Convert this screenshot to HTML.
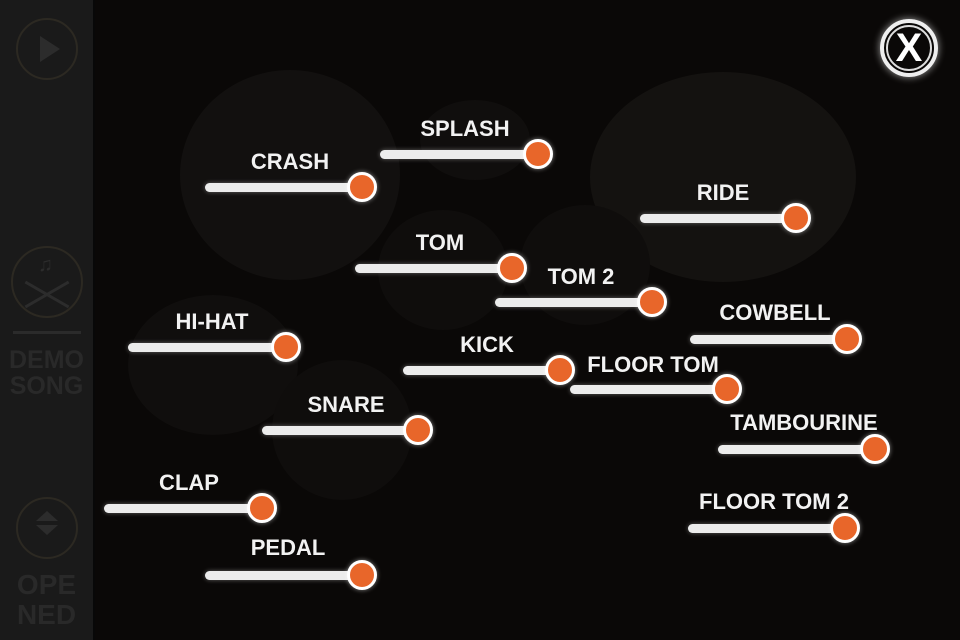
<!DOCTYPE html>
<html><head><style>
body{margin:0;width:960px;height:640px;overflow:hidden;background:#0a0807;font-family:"Liberation Sans",sans-serif;position:relative}
.bg{position:absolute;border-radius:50%;background:#141210}
.side{position:absolute;left:0;top:0;width:93px;height:640px;background:#1a1a1a;border-right:2px solid #080808}
.st{position:absolute;color:#292929;font-weight:bold;font-size:25px;text-align:center;width:93px;left:0;line-height:26px}
.ring{position:absolute;border-radius:50%;border:2px solid #2c2922;box-sizing:border-box}
.tr{position:absolute;height:9px;border-radius:5px;background:#ececec;box-shadow:0 0 5px rgba(255,255,255,.35)}
.kn{position:absolute;width:30px;height:30px;border-radius:50%;background:#e8662a;border:3px solid #fff;box-sizing:border-box;box-shadow:0 0 5px rgba(255,255,255,.5)}
.lb{position:absolute;color:#f2f2f2;font-weight:bold;font-size:22px;transform:translate(-50%,-50%);white-space:nowrap}
</style></head><body>
<div class="bg" style="left:590px;top:72px;width:266px;height:210px"></div>
<div class="bg" style="left:180px;top:70px;width:220px;height:210px;background:#12100f"></div>
<div class="bg" style="left:420px;top:100px;width:110px;height:80px;background:#100e0d"></div>
<div class="bg" style="left:128px;top:295px;width:170px;height:140px;background:#100e0d"></div>
<div class="bg" style="left:272px;top:360px;width:140px;height:140px;background:#0f0d0c"></div>
<div class="bg" style="left:378px;top:210px;width:130px;height:120px;background:#0f0d0c"></div>
<div class="bg" style="left:520px;top:205px;width:130px;height:120px;background:#0f0d0c"></div>
<div class="side"></div>
<div class="ring" style="left:16px;top:18px;width:62px;height:62px"></div>
<div style="position:absolute;left:40px;top:36px;border-left:20px solid #2c2c2c;border-top:13px solid transparent;border-bottom:13px solid transparent"></div>
<div class="ring" style="left:11px;top:246px;width:72px;height:72px"></div>
<div style="position:absolute;left:22px;top:293px;width:50px;height:3px;background:#2c2c2c;transform:rotate(30deg)"></div>
<div style="position:absolute;left:22px;top:293px;width:50px;height:3px;background:#2c2c2c;transform:rotate(-30deg)"></div>
<div style="position:absolute;left:38px;top:254px;color:#2c2c2c;font-size:20px">♫</div>
<div style="position:absolute;left:13px;top:331px;width:68px;height:3px;background:#2b2b2b"></div>
<div class="st" style="top:347px">DEMO<br>SONG</div>
<div class="ring" style="left:16px;top:497px;width:62px;height:62px"></div>
<div style="position:absolute;left:36px;top:511px;border-bottom:10px solid #2c2c2c;border-left:11px solid transparent;border-right:11px solid transparent"></div>
<div style="position:absolute;left:36px;top:525px;border-top:10px solid #2c2c2c;border-left:11px solid transparent;border-right:11px solid transparent"></div>
<div class="st" style="top:570px;font-size:28px;line-height:30px">OPE<br>NED</div>
<div style="position:absolute;left:880px;top:19px;width:58px;height:58px;border-radius:50%;border:4px solid #eee;box-sizing:border-box;box-shadow:0 0 8px rgba(255,255,255,.6)"></div>
<div style="position:absolute;left:886px;top:25px;width:46px;height:46px;border-radius:50%;border:2px solid #ddd;box-sizing:border-box"></div>
<div style="position:absolute;left:880px;top:19px;width:58px;height:58px;line-height:58px;text-align:center;color:#fff;font-weight:bold;font-size:40px">X</div>

<div class="tr" style="left:205px;top:183px;width:160px"></div><div class="kn" style="left:347px;top:172px"></div><div class="lb" style="left:290px;top:162px">CRASH</div>
<div class="tr" style="left:380px;top:150px;width:160px"></div><div class="kn" style="left:523px;top:139px"></div><div class="lb" style="left:465px;top:129px">SPLASH</div>
<div class="tr" style="left:640px;top:214px;width:160px"></div><div class="kn" style="left:781px;top:203px"></div><div class="lb" style="left:723px;top:193px">RIDE</div>
<div class="tr" style="left:355px;top:264px;width:160px"></div><div class="kn" style="left:497px;top:253px"></div><div class="lb" style="left:440px;top:243px">TOM</div>
<div class="tr" style="left:495px;top:298px;width:160px"></div><div class="kn" style="left:637px;top:287px"></div><div class="lb" style="left:581px;top:277px">TOM 2</div>
<div class="tr" style="left:128px;top:343px;width:160px"></div><div class="kn" style="left:271px;top:332px"></div><div class="lb" style="left:212px;top:322px">HI-HAT</div>
<div class="tr" style="left:690px;top:335px;width:160px"></div><div class="kn" style="left:832px;top:324px"></div><div class="lb" style="left:775px;top:313px">COWBELL</div>
<div class="tr" style="left:403px;top:366px;width:160px"></div><div class="kn" style="left:545px;top:355px"></div><div class="lb" style="left:487px;top:345px">KICK</div>
<div class="tr" style="left:570px;top:385px;width:160px"></div><div class="kn" style="left:712px;top:374px"></div><div class="lb" style="left:653px;top:365px">FLOOR TOM</div>
<div class="tr" style="left:262px;top:426px;width:160px"></div><div class="kn" style="left:403px;top:415px"></div><div class="lb" style="left:346px;top:405px">SNARE</div>
<div class="tr" style="left:718px;top:445px;width:160px"></div><div class="kn" style="left:860px;top:434px"></div><div class="lb" style="left:804px;top:423px">TAMBOURINE</div>
<div class="tr" style="left:104px;top:504px;width:160px"></div><div class="kn" style="left:247px;top:493px"></div><div class="lb" style="left:189px;top:483px">CLAP</div>
<div class="tr" style="left:688px;top:524px;width:160px"></div><div class="kn" style="left:830px;top:513px"></div><div class="lb" style="left:774px;top:502px">FLOOR TOM 2</div>
<div class="tr" style="left:205px;top:571px;width:160px"></div><div class="kn" style="left:347px;top:560px"></div><div class="lb" style="left:288px;top:548px">PEDAL</div>
</body></html>
